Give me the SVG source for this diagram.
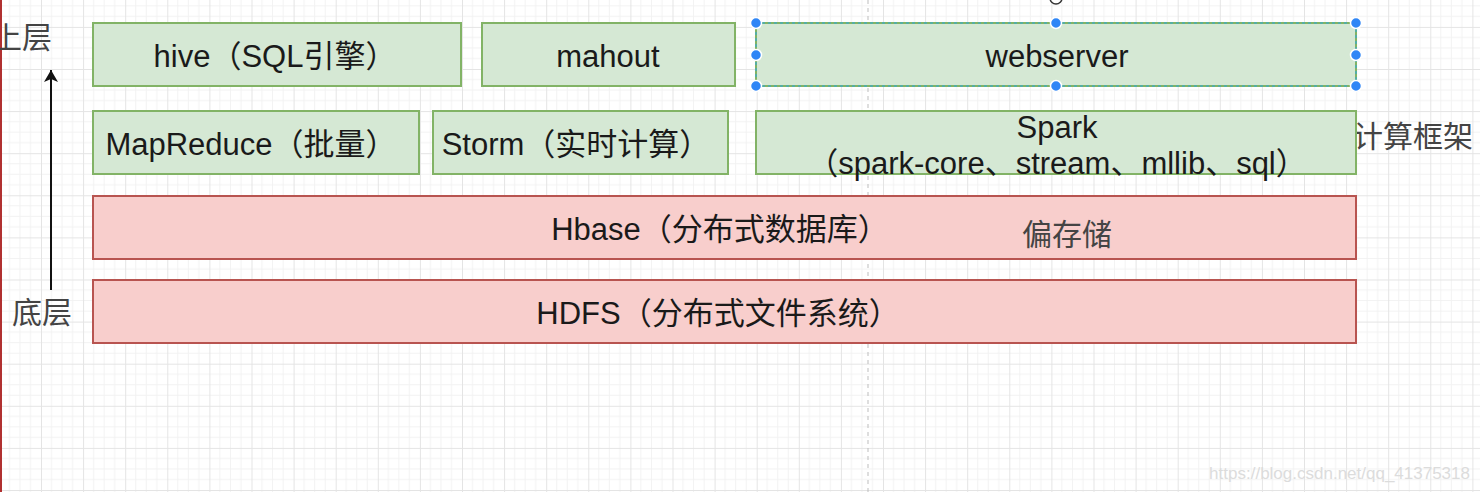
<svg xmlns="http://www.w3.org/2000/svg" width="1480" height="492" viewBox="0 0 1480 492">
<defs>
<pattern id="grid" patternUnits="userSpaceOnUse" x="-1.1" y="-15.2" width="42.1" height="42.1">
<path d="M10.525 0V42.1M21.05 0V42.1M31.575 0V42.1M0 10.525H42.1M0 21.05H42.1M0 31.575H42.1" stroke="#f2f2f2" stroke-width="1" fill="none"/>
<path d="M0.5 0V42.1M0 0.5H42.1" stroke="#e4e4e4" stroke-width="1" fill="none"/>
</pattern>
<marker id="arr" viewBox="0 0 12 14" refX="12" refY="7" markerWidth="12" markerHeight="14" markerUnits="userSpaceOnUse" orient="auto">
<path d="M0 0L12 7L0 14L3 7Z" fill="#111"/>
</marker>
</defs>
<style>
.g{fill:#d5e8d4;stroke:#82b366;stroke-width:2}
.r{fill:#f8cecc;stroke:#b85450;stroke-width:2}
.t{font-family:"Liberation Sans","Noto Sans CJK SC",Arial,sans-serif;font-size:31px;fill:#1a1a1a;text-anchor:middle}
.s{font-family:"Noto Sans CJK SC","Liberation Sans",sans-serif;font-size:30px;fill:#444}
.h{fill:#2f86f6;stroke:#ffffff;stroke-width:1.5}
</style>
<rect width="1480" height="492" fill="#ffffff"/>
<rect width="1480" height="492" fill="url(#grid)"/>
<line x1="868" y1="0" x2="868" y2="492" stroke="#bdbdbd" stroke-width="1" stroke-dasharray="4 4"/>
<rect x="0" y="0" width="2" height="492" fill="#b03030"/>

<text class="s" x="-8" y="48">上层</text>
<text class="s" x="12" y="323">底层</text>
<text class="s" x="1353" y="147">计算框架</text>

<g id="connectors">
<line x1="51" y1="290" x2="51" y2="70" stroke="#111" stroke-width="2" marker-end="url(#arr)"/>
</g>

<g id="hive"><rect class="g" x="93" y="23" width="368" height="63"/><text class="t" x="275" y="67">hive（SQL引擎）</text></g>
<g id="mahout"><rect class="g" x="482" y="23" width="253" height="63"/><text class="t" x="608" y="67">mahout</text></g>
<g id="webserver"><rect class="g" x="756" y="23" width="600" height="63"/><text class="t" x="1057" y="67">webserver</text>
<rect x="756" y="23" width="600" height="63" fill="none" stroke="#29a9e0" stroke-width="1" stroke-dasharray="3 3"/>
<circle cx="1056" cy="-2" r="6" fill="#fff" stroke="#333" stroke-width="1.5"/>
<circle class="h" cx="756" cy="23" r="5.5"/><circle class="h" cx="1056" cy="23" r="5.5"/><circle class="h" cx="1356" cy="23" r="5.5"/>
<circle class="h" cx="756" cy="55" r="5.5"/><circle class="h" cx="1356" cy="55" r="5.5"/>
<circle class="h" cx="756" cy="86" r="5.5"/><circle class="h" cx="1056" cy="86" r="5.5"/><circle class="h" cx="1356" cy="86" r="5.5"/>
</g>
<g id="mapreduce"><rect class="g" x="93" y="111" width="326" height="63"/><text class="t" x="251" y="155">MapReduce（批量）</text></g>
<g id="storm"><rect class="g" x="433" y="111" width="295" height="63"/><text class="t" x="576" y="155">Storm（实时计算）</text></g>
<g id="spark"><rect class="g" x="756" y="111" width="600" height="63"/><text class="t" x="1057" y="138">Spark</text><text class="t" x="1057" y="174">（spark-core、stream、mllib、sql）</text></g>
<g id="hbase"><rect class="r" x="93" y="196" width="1263" height="63"/><text class="t" x="720" y="240">Hbase（分布式数据库）</text><text class="s" x="1022" y="245">偏存储</text></g>
<g id="hdfs"><rect class="r" x="93" y="280" width="1263" height="63"/><text class="t" x="718" y="324">HDFS（分布式文件系统）</text></g>

<text x="1470" y="479" font-family="Liberation Sans,Arial,sans-serif" font-size="17" fill="#dcdcdc" text-anchor="end">https://blog.csdn.net/qq_41375318</text>
</svg>
